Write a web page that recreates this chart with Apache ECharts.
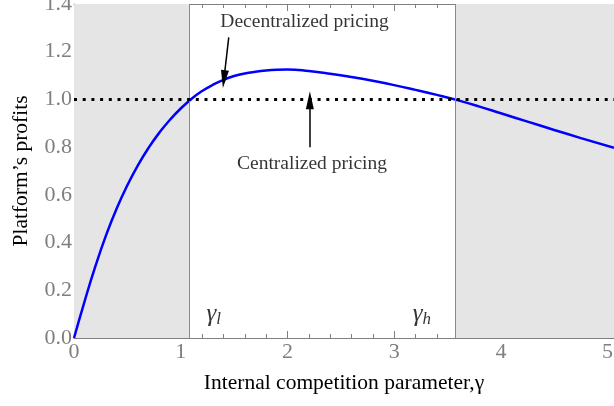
<!DOCTYPE html>
<html>
<head>
<meta charset="utf-8">
<script src="https://cdn.jsdelivr.net/npm/echarts@6/dist/echarts.min.js"></script>
<style>
  html, body { margin: 0; padding: 0; background: #fff; }
  #chart { width: 614px; height: 406px; }
</style>
</head>
<body>
<div id="chart"></div>
<script>
// platform profits under decentralized pricing
var gammaValues = [0, 0.1, 0.2, 0.3, 0.4, 0.5, 0.6, 0.7, 0.8, 0.9, 1.0, 1.1, 1.2, 1.3, 1.4, 1.5, 1.6, 1.7, 1.8, 1.9, 2.0,
                   2.2, 2.4, 2.6, 2.8, 3.0, 3.2, 3.4, 3.6, 3.8, 4.0, 4.25, 4.5, 4.75, 5.06];
var profitValues = [0, 0.155, 0.30, 0.43, 0.543, 0.640, 0.725, 0.798, 0.861, 0.915, 0.962, 1.002, 1.035, 1.061, 1.082, 1.098, 1.109, 1.116, 1.121, 1.124, 1.125,
                    1.119, 1.108, 1.094, 1.078, 1.060, 1.040, 1.019, 0.996, 0.970, 0.942, 0.907, 0.872, 0.838, 0.797];
var centralizedProfit = 1.0;
var gammaLow = 1.078;
var gammaHigh = 3.57;
var xMin = 0, xMax = 5.06;
var yMin = 0, yMax = 1.4;

var SERIF = '"Liberation Serif", "DejaVu Serif", serif';
var AXIS_GRAY = '#7f7f7f';

var curveData = gammaValues.map(function (g, i) { return [g, profitValues[i]]; });

var chart = echarts.init(document.getElementById('chart'));

var baseAxis = {
  axisLine: { show: true, lineStyle: { color: AXIS_GRAY, width: 1 } },
  axisTick: { show: true, inside: true, length: 7, lineStyle: { color: AXIS_GRAY } },
  minorTick: { show: true, length: 4, lineStyle: { color: AXIS_GRAY } },
  splitLine: { show: false },
  minorSplitLine: { show: false }
};

var option = {
  animation: false,
  backgroundColor: '#fff',
  grid: { left: 74, right: 0, top: 4, bottom: 68, containLabel: false, outerBoundsMode: 'none' },
  xAxis: [
    Object.assign({}, baseAxis, {
      type: 'value', min: xMin, max: xMax, interval: 1,
      minorTick: Object.assign({}, baseAxis.minorTick, { splitNumber: 5 }),
      axisLabel: { color: AXIS_GRAY, fontFamily: SERIF, fontSize: 22, margin: 3, showMaxLabel: false },
      name: 'Internal competition parameter,\u03b3',
      nameLocation: 'middle', nameGap: 34,
      nameTextStyle: { color: '#000', fontFamily: SERIF, fontSize: 21.5 }
    }),
    Object.assign({}, baseAxis, {
      type: 'value', position: 'top', min: xMin, max: xMax, interval: 1,
      minorTick: Object.assign({}, baseAxis.minorTick, { splitNumber: 5 }),
      axisLabel: { show: false }
    })
  ],
  yAxis: [
    Object.assign({}, baseAxis, {
      type: 'value', min: yMin, max: yMax, interval: 0.2,
      minorTick: Object.assign({}, baseAxis.minorTick, { splitNumber: 4 }),
      axisLabel: {
        color: AXIS_GRAY, fontFamily: SERIF, fontSize: 22, margin: 2,
        formatter: function (v) { return v.toFixed(1); }
      },
      name: 'Platform\u2019s profits',
      nameLocation: 'middle', nameGap: 42,
      nameTextStyle: { color: '#000', fontFamily: SERIF, fontSize: 21.5 }
    })
  ],
  series: [
    {
      name: 'Decentralized pricing',
      type: 'line',
      data: curveData,
      smooth: 0.5,
      showSymbol: false,
      z: 4,
      lineStyle: { color: '#0000ff', width: 2.5 },
      markArea: {
        silent: true,
        itemStyle: { color: '#e5e5e5' },
        data: [
          [{ xAxis: xMin }, { xAxis: gammaLow }],
          [{ xAxis: gammaHigh }, { xAxis: xMax }]
        ]
      },
      markLine: {
        silent: true,
        symbol: 'none',
        label: { show: false },
        lineStyle: { color: '#8a8a8a', width: 1, type: 'solid' },
        data: [{ xAxis: gammaLow }, { xAxis: gammaHigh }]
      }
    },
    {
      name: 'Centralized pricing',
      type: 'line',
      data: [[xMin, centralizedProfit], [xMax, centralizedProfit]],
      showSymbol: false,
      z: 5,
      lineStyle: { color: '#000', width: 3, type: [3, 5.7] }
    },
    {
      name: 'annotations',
      type: 'scatter',
      symbolSize: 0,
      z: 6,
      data: [
        { value: [2.16, 1.327], name: 'Decentralized pricing' },
        { value: [2.23, 0.73], name: 'Centralized pricing' },
        { value: [1.31, 0.098], name: '{g|\u03b3}{s|l}' },
        { value: [3.26, 0.098], name: '{g|\u03b3}{s|h}' }
      ],
      label: {
        show: true, position: 'inside',
        formatter: function (p) { return p.name; },
        color: '#000', fontFamily: SERIF, fontSize: 19.5,
        rich: {
          g: { fontFamily: SERIF, fontStyle: 'italic', fontSize: 25, color: '#000' },
          s: { fontFamily: SERIF, fontStyle: 'italic', fontSize: 17, color: '#000', padding: [9, 0, 0, 0] }
        }
      },
      markLine: {
        silent: true,
        symbol: ['none', 'triangle'],
        symbolSize: [8, 18],
        label: { show: false },
        lineStyle: { color: '#000', width: 1.5, type: 'solid' },
        data: [
          [{ coord: [1.45, 1.26] }, { coord: [1.405, 1.085] }],
          [{ coord: [2.21, 0.80] }, { coord: [2.21, 0.997] }]
        ]
      }
    }
  ]
};

chart.setOption(option);
</script>
</body>
</html>
